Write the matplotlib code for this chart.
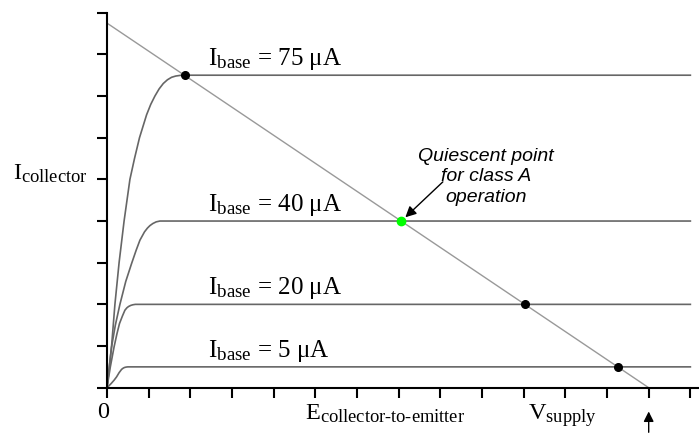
import numpy as np
import matplotlib.pyplot as plt
import matplotlib._mathtext as mtext

plt.rcParams['mathtext.fontset'] = 'custom'
plt.rcParams['mathtext.rm'] = 'Liberation Serif'
mtext.SHRINK_FACTOR = 0.76

# collector curves (x in ticks of E, y in ticks of I)
c75_x = [0, 0.05, 0.11, 0.19, 0.29, 0.41, 0.55, 0.66, 0.78, 0.95, 1.05, 1.15, 1.25, 1.35, 1.45, 1.55, 1.65, 1.79, 14.0]
c75_y = [0, 0.45, 1.0, 2.0, 3.0, 4.0, 5.0, 5.5, 6.0, 6.55, 6.8, 7.0, 7.17, 7.3, 7.39, 7.45, 7.48, 7.5, 7.5]
c40_x = [0, 0.11, 0.2, 0.31, 0.45, 0.59, 0.7, 0.79, 0.9, 0.97, 1.03, 1.1, 1.18, 1.27, 14.0]
c40_y = [0, 0.98, 1.5, 2.0, 2.55, 2.98, 3.3, 3.54, 3.74, 3.83, 3.89, 3.94, 3.98, 4.0, 4.0]
c20_x = [0, 0.08, 0.17, 0.24, 0.3, 0.37, 0.43, 0.48, 0.52, 0.57, 0.62, 0.68, 0.74, 14.0]
c20_y = [0, 0.5, 0.98, 1.3, 1.54, 1.72, 1.86, 1.92, 1.95, 1.975, 1.99, 2.0, 2.0, 2.0]
c5_x = [0, 0.1, 0.17, 0.23, 0.29, 0.35, 0.39, 0.42, 0.46, 0.5, 14.0]
c5_y = [0, 0.1, 0.18, 0.26, 0.36, 0.44, 0.47, 0.485, 0.495, 0.5, 0.5]

labels = ['75', '40', '20', '5']
levels = [7.5, 4.0, 2.0, 0.5]

load_x = [0, 13]
load_y = [8.75, 0]

dot_x = [1.86, 10.03, 12.26]
dot_y = [7.5, 2.0, 0.5]
q_x, q_y = 7.06, 4.0

fig = plt.figure(figsize=(6.99, 4.36), dpi=100)
ax = fig.add_axes([107 / 699, 48.3 / 436, 591.7 / 699, 375 / 436])
ax.set_xlim(0, 14.2)
ax.set_ylim(0, 9)

for cx, cy in [(c75_x, c75_y), (c40_x, c40_y), (c20_x, c20_y), (c5_x, c5_y)]:
    ax.plot(cx, cy, color='#666666', lw=1.2, solid_joinstyle='round', clip_on=False)

ax.plot(load_x, load_y, color='#999999', lw=1.0, clip_on=False)
ax.plot(dot_x, dot_y, 'o', color='black', ms=5.5, clip_on=False, zorder=5)
ax.plot([q_x], [q_y], 'o', color='#00ff00', ms=6, clip_on=False, zorder=5)

for lab, lv in zip(labels, levels):
    ax.text(2.42, lv + 0.24, r'$\mathrm{I_{base}}$ = ' + lab + ' \u03bcA',
            family='Liberation Serif', fontsize=18, va='baseline')

ax.text(-2.26, 5.0, r'$\mathrm{I_{collector}}$', family='Liberation Serif',
        fontsize=17.5, va='baseline', clip_on=False)
ax.text(-0.1, -0.6, '0', family='Liberation Serif', fontsize=17.5,
        ha='center', va='center')
ax.text(4.75, -0.77, r'$\mathrm{E_{collector\text{-}to\text{-}emitter}}$',
        family='Liberation Serif', fontsize=17.5, va='baseline')
ax.text(10.1, -0.77, r'$\mathrm{V_{supply}}$', family='Liberation Serif',
        fontsize=17.5, va='baseline')

ax.text(9.1, 5.06, 'Quiescent point\nfor class A\noperation', family='Liberation Sans',
        style='italic', fontsize=14, ha='center', va='center', linespacing=1.27)
ax.annotate('', xy=(q_x + 0.1, q_y + 0.09), xytext=(8.06, 4.94),
            arrowprops=dict(arrowstyle='-|>', color='black', lw=1.0,
                            mutation_scale=16, shrinkA=0, shrinkB=0))
ax.annotate('', xy=(13, -0.57), xytext=(13, -1.07), annotation_clip=False,
            arrowprops=dict(arrowstyle='-|>', color='black', lw=1.0,
                            mutation_scale=15, shrinkA=0, shrinkB=0))

for s in ['top', 'right']:
    ax.spines[s].set_visible(False)
ax.spines['left'].set_linewidth(1.5)
ax.spines['bottom'].set_linewidth(1.5)
ax.spines['left'].set_bounds(0, 9)
ax.set_xticks(np.arange(0, 15))
ax.set_yticks(np.arange(0, 10))
ax.tick_params(direction='out', length=7.5, width=1.5, labelbottom=False, labelleft=False)

fig.savefig('out.png', dpi=100)
